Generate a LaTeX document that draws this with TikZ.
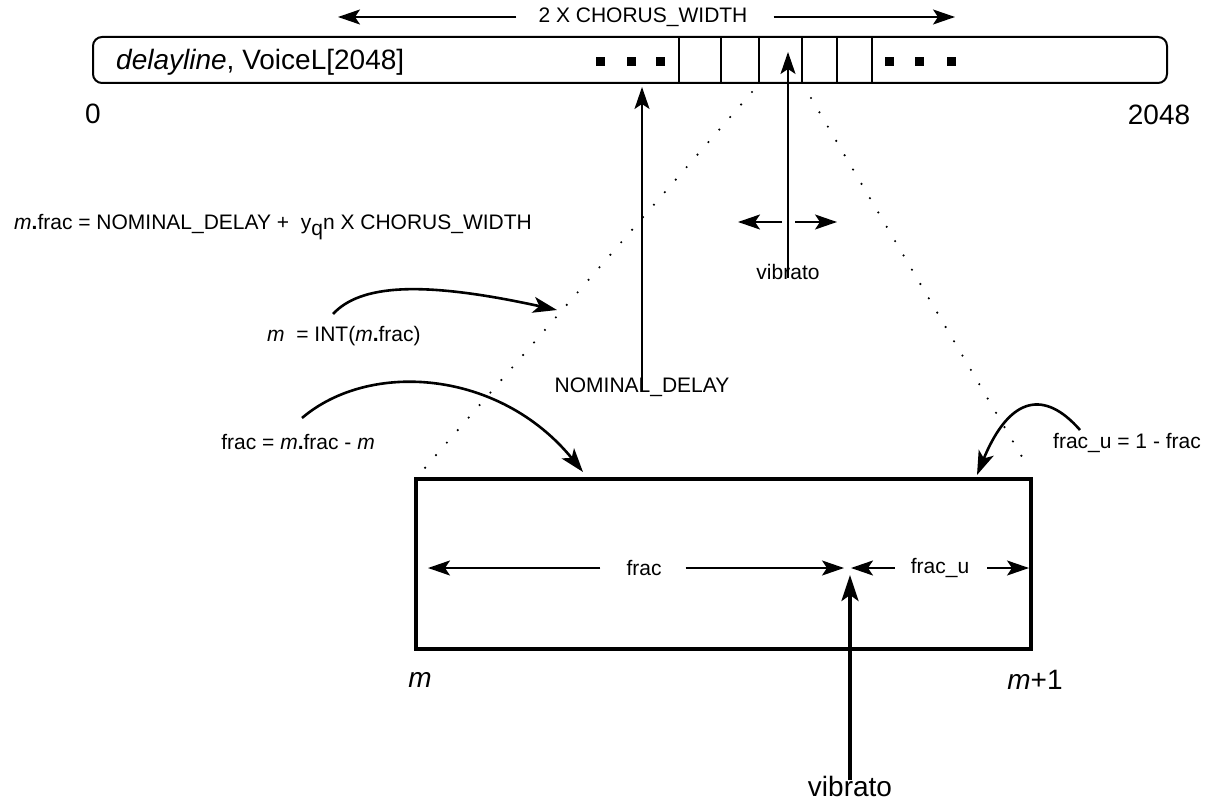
\documentclass[tikz,border=0pt]{standalone}
\usepackage{fontspec}
\setmainfont{Liberation Sans}
\usetikzlibrary{arrows.meta}
\begin{document}
\begin{tikzpicture}[x=1pt,y=-1pt,
  lbl/.style={font=\fontsize{21}{25}\selectfont, inner sep=0pt},
  big/.style={font=\fontsize{28}{32}\selectfont, inner sep=0pt},
  arr/.style={line width=2pt, -{Stealth[length=22pt,width=15pt,inset=5pt]}},
  thick arr/.style={line width=3.5pt, -{Stealth[length=26pt,width=17pt,inset=6pt]}},
  curv/.style={line width=2.6pt, -{Stealth[length=24pt,width=16pt,inset=6pt]}},
  dotl/.style={line width=2.4pt, line cap=round, dash pattern=on 0pt off 16.6pt},
  sq/.style={fill=black, minimum size=9pt, inner sep=0pt},
  cell/.style={line width=2pt},
]
\useasboundingbox (0,0) rectangle (1217,802);

% top width arrow
\node[lbl] (cw) at (643,17) {2 X CHORUS\_WIDTH};
\coordinate (cwl) at (338,17);
\coordinate (cwr) at (955,17);
\draw[arr] ([xshift=-22pt]cw.west) -- (cwl);
\draw[arr] ([xshift=26pt]cw.east) -- (cwr);

% delay line bar
\node[draw, line width=2pt, rounded corners=9pt, minimum width=1074pt, minimum height=46pt, inner sep=0pt] (bar) at (630,60) {};
\node[big, anchor=west] (dl) at (116,62) {\textit{delayline}, VoiceL[2048]};
\foreach \x in {679,721,759,802,837,872} \draw[cell] (\x,37) -- (\x,83);
\foreach \x/\n in {600/a,631/b,660/c,889/d,919/e,951/f} \node[sq] (sq\n) at (\x,62) {};

\node[big] (zero) at (93,114) {0};
\node[big] (n2048) at (1159,115) {2048};

% dotted projection lines
\coordinate (dlA) at (752,92);
\coordinate (dlB) at (417,477);
\coordinate (drA) at (811,98);
\coordinate (drB) at (1025,462);
\draw[dotl] (dlA) -- (dlB);
\draw[dotl] (drA) -- (drB);

% formula
\node[lbl, anchor=west] (form) at (14,227) {\textit{m}\textbf{.}frac = NOMINAL\_DELAY +\ \ y\raisebox{-6pt}{q}n X CHORUS\_WIDTH};

% NOMINAL_DELAY arrow
\node[lbl] (nom) at (642,387) {NOMINAL\_DELAY};
\coordinate (nomtip) at (642,87);
\draw[arr] ([yshift=-14pt]nom.north) -- (nomtip);

% upper vibrato
\node[lbl] (vib1) at (788,272) {vibrato};
\coordinate (vibtip) at (788,52);
\draw[arr] ([yshift=-14pt]vib1.north) -- (vibtip);
\coordinate (vl1) at (782,222);
\coordinate (vl2) at (738,222);
\coordinate (vr1) at (795,222);
\coordinate (vr2) at (837,222);
\draw[arr] (vl1) -- (vl2);
\draw[arr] (vr1) -- (vr2);

% m = INT
\node[lbl, anchor=west] (mint) at (267,336) {\textit{m}\ \ = INT(\textit{m}\textbf{.}frac)};
\coordinate (mintip) at (557,310);
\draw[curv] (333,314) .. controls (360,285) and (420,280) .. (mintip);

% frac = m.frac - m
\node[lbl, anchor=east] (fr) at (375,442) {frac = \textit{m}\textbf{.}frac - \textit{m}};
\coordinate (frtip) at (583,472);
\draw[curv] (302,418) .. controls (370,360) and (500,370) .. (frtip);

% frac_u = 1 - frac
\node[lbl, anchor=west] (fru) at (1053,443) {frac\_u = 1 - frac};
\coordinate (frutip) at (977,475);
\draw[curv] (1080,430) .. controls (1045,390) and (1010,395) .. (frutip);

% interpolation box
\node[draw, line width=4.5pt, minimum width=615pt, minimum height=170pt, inner sep=0pt] (box) at (723.5,564) {};
\node[lbl] (frac) at (644,568) {frac};
\node[lbl] (fracu) at (940,568) {frac\_u};
\coordinate (fl) at (428,568);
\coordinate (fr2) at (844,568);
\coordinate (ful) at (851,568);
\coordinate (fur) at (1029,568);
\draw[arr] ([xshift=-26pt]frac.west) -- (fl);
\draw[arr] ([xshift=24pt]frac.east) -- (fr2);
\draw[arr] ([xshift=-16pt]fracu.west) -- (ful);
\draw[arr] ([xshift=18pt]fracu.east) -- (fur);

\node[big] (mlab) at (420,680) {\textit{m}};
\node[big] (m1lab) at (1035,680) {\textit{m}+1};

% lower vibrato
\node[big] (vib2) at (850,786) {vibrato};
\coordinate (vib2tip) at (850,575);
\draw[thick arr] ([yshift=-4pt]vib2.north) -- (vib2tip);
\end{tikzpicture}
\end{document}
